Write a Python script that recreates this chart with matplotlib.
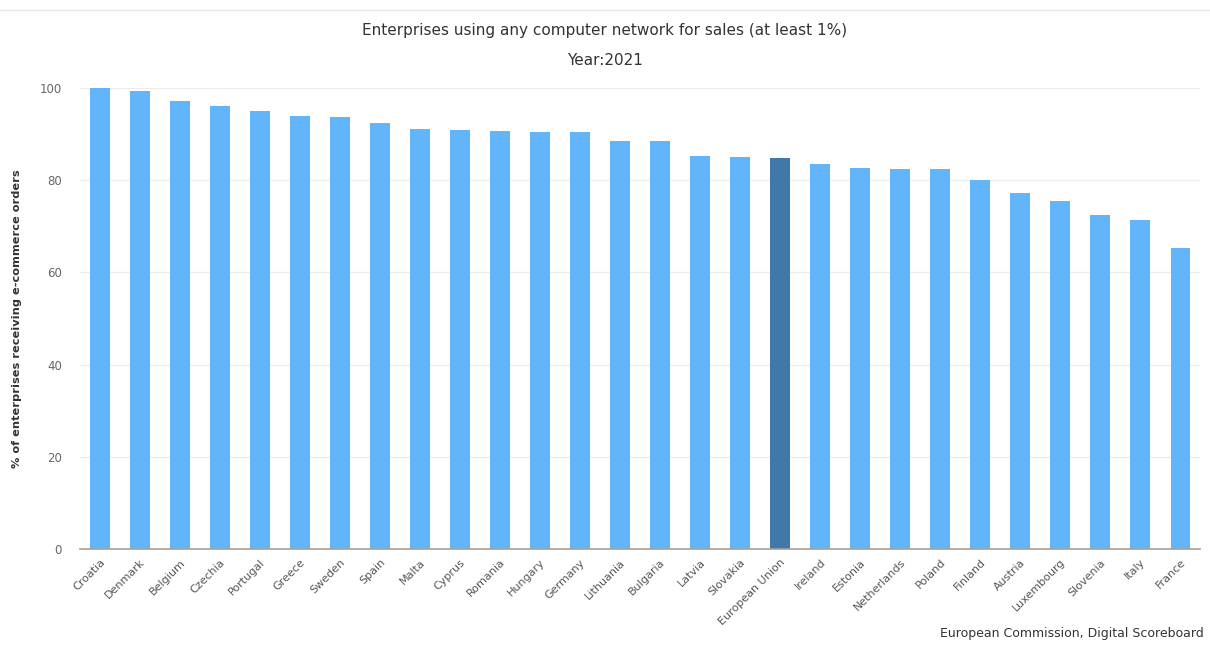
import numpy as np
import matplotlib.pyplot as plt

###############################################################################
# data

countries = ['Croatia', 'Denmark', 'Belgium', 'Czechia', 'Portugal', 'Greece',
             'Sweden', 'Spain', 'Malta', 'Cyprus', 'Romania', 'Hungary',
             'Germany', 'Lithuania', 'Bulgaria', 'Latvia', 'Slovakia',
             'European Union', 'Ireland', 'Estonia', 'Netherlands', 'Poland',
             'Finland', 'Austria', 'Luxembourg', 'Slovenia', 'Italy', 'France']
values = [100.0, 99.4, 97.3, 96.1, 95.1, 94.0, 93.8, 92.4, 91.1, 90.9, 90.7,
          90.4, 90.4, 88.5, 88.5, 85.3, 85.1, 84.8, 83.5, 82.6, 82.4, 82.4,
          80.0, 77.3, 75.4, 72.5, 71.3, 65.2]
yticks = [0, 20, 40, 60, 80, 100]

title = 'Enterprises using any computer network for sales (at least 1%)'
subtitle = 'Year:2021'
ylabel = '% of enterprises receiving e-commerce orders'
credit = 'European Commission, Digital Scoreboard'

###############################################################################
# plot

light = '#62b4fb'
dark = '#3f78a9'
colors = [dark if c == 'European Union' else light for c in countries]

fig = plt.figure(figsize=(12.1, 6.48), dpi=100)
ax = fig.add_axes([0.066, 0.153, 0.926, 0.711])

x = np.arange(len(countries))
ax.bar(x, values, width=0.49, color=colors, zorder=2)

ax.set_xlim(-0.5, len(countries) - 0.5)
ax.set_ylim(0, 100)
ax.set_yticks(yticks)
ax.set_yticklabels([str(t) for t in yticks], color='#666666', fontsize=8.5)
ax.set_xticks(x)
ax.set_xticklabels(countries, rotation=45, ha='right', rotation_mode='anchor',
                   color='#555555', fontsize=8)
ax.tick_params(axis='both', length=0)
ax.tick_params(axis='y', pad=13)
ax.tick_params(axis='x', pad=6)

ax.grid(axis='y', color='#ececec', linewidth=0.9, zorder=0)
for s in ['top', 'right', 'left']:
    ax.spines[s].set_visible(False)
ax.spines['bottom'].set_color('#a89f98')
ax.spines['bottom'].set_linewidth(1.2)
ax.spines['bottom'].set_zorder(3)

ax.set_ylabel(ylabel, fontsize=8.2, fontweight='bold', color='#333333')
ax.yaxis.set_label_coords(-0.052, 0.5)

fig.text(0.5, 0.953, title, ha='center', va='center', fontsize=11,
         color='#333333')
fig.text(0.5, 0.907, subtitle, ha='center', va='center', fontsize=11,
         color='#333333')
fig.text(0.995, 0.012, credit, ha='right', va='bottom', fontsize=9,
         color='#333333')

# faint frame line across the top
fig.add_artist(plt.Line2D([0, 1], [0.985, 0.985], color='#e8e8e8', lw=1))

fig.savefig('out.png', dpi=100, facecolor='white')
